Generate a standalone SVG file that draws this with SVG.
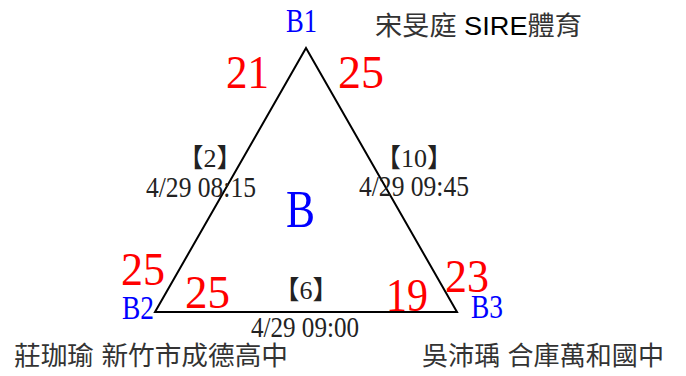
<svg xmlns="http://www.w3.org/2000/svg" width="686" height="376" viewBox="0 0 686 376">
<style>
.lbl{font-family:"Liberation Serif",serif;font-size:33px;fill:#0000ff}
.sc{font-family:"Liberation Serif",serif;font-size:47px;fill:#ff0000}
.gm{font-family:"Liberation Serif","Noto Sans CJK TC",serif;font-size:30px;fill:#222}
.br{font-family:"Liberation Serif","Noto Sans CJK TC",serif;font-size:26px;fill:#222;text-anchor:middle}
.nm{font-family:"Liberation Sans","Noto Sans CJK TC",sans-serif;font-size:26px;fill:#333}
.en{fill:#000}
</style>
<rect width="686" height="376" fill="#fff"/>
<g id="connectors">
<polygon points="306,48 155,312 457,312" fill="none" stroke="#000" stroke-width="2"/>
</g>
<g id="B1">
<text class="lbl" x="286" y="32" textLength="31" lengthAdjust="spacingAndGlyphs">B1</text>
<text class="nm" x="375" y="35" textLength="207" lengthAdjust="spacingAndGlyphs">宋旻庭 <tspan class="en">SIRE</tspan>體育</text>
</g>
<g id="B2">
<text class="lbl" x="122" y="319" textLength="32" lengthAdjust="spacingAndGlyphs">B2</text>
<text class="nm" x="14" y="365" textLength="274" lengthAdjust="spacingAndGlyphs">莊珈瑜 新竹市成德高中</text>
</g>
<g id="B3">
<text class="lbl" x="471" y="318" textLength="32" lengthAdjust="spacingAndGlyphs">B3</text>
<text class="nm" x="422" y="365" textLength="242" lengthAdjust="spacingAndGlyphs">吳沛瑀 合庫萬和國中</text>
</g>
<g id="center">
<text x="286" y="227" textLength="29" lengthAdjust="spacingAndGlyphs" style="font-family:'Liberation Serif',serif;font-size:53px;fill:#0000ff">B</text>
</g>
<g id="scores">
<text class="sc" x="226" y="88" textLength="43" lengthAdjust="spacingAndGlyphs">21</text>
<text class="sc" x="338" y="88" textLength="46" lengthAdjust="spacingAndGlyphs">25</text>
<text class="sc" x="121" y="285" textLength="44" lengthAdjust="spacingAndGlyphs">25</text>
<text class="sc" x="185" y="308" textLength="45" lengthAdjust="spacingAndGlyphs">25</text>
<text class="sc" x="386" y="311" textLength="42" lengthAdjust="spacingAndGlyphs">19</text>
<text class="sc" x="445" y="292" textLength="44" lengthAdjust="spacingAndGlyphs">23</text>
</g>
<g id="games">
<text class="br" x="210" y="167">【2】</text>
<text class="gm" x="146" y="197" textLength="110" lengthAdjust="spacingAndGlyphs">4/29 08:15</text>
<text class="br" x="414" y="167">【10】</text>
<text class="gm" x="359" y="196" textLength="110" lengthAdjust="spacingAndGlyphs">4/29 09:45</text>
<text class="br" x="306" y="299">【6】</text>
<text class="gm" x="251" y="337" textLength="108" lengthAdjust="spacingAndGlyphs">4/29 09:00</text>
</g>
</svg>
